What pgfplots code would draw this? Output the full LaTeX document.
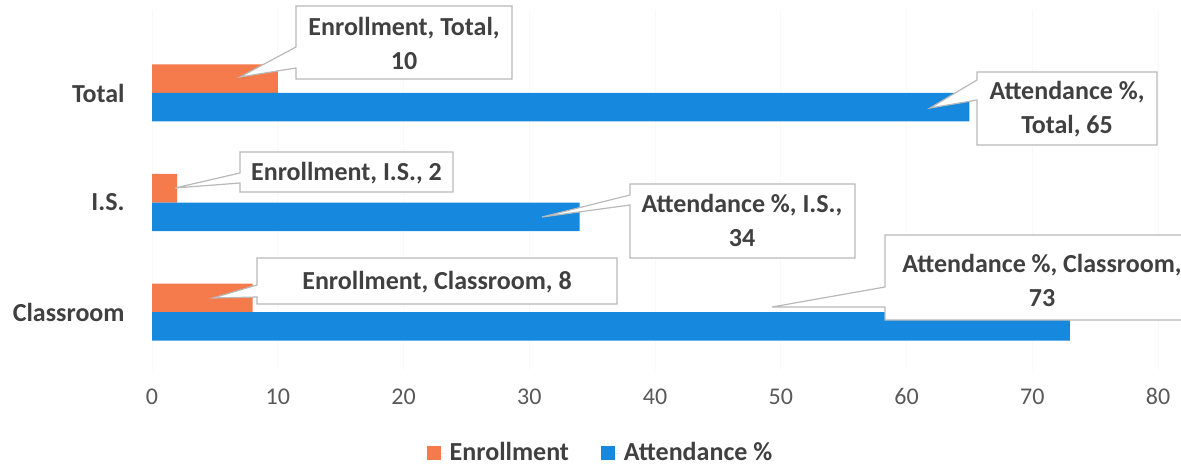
\documentclass[border=0pt]{standalone}
\usepackage{fontspec}
\setmainfont{Carlito}
\usepackage{pgfplots}
\pgfplotsset{compat=1.18}

\definecolor{enr}{RGB}{245,122,76}
\definecolor{att}{RGB}{22,136,222}
\definecolor{txt}{RGB}{64,64,64}
\definecolor{ticktxt}{RGB}{89,89,89}
\definecolor{callout}{RGB}{185,185,185}

\begin{document}
\begin{tikzpicture}
\begin{axis}[
  x=6.2875pt, y=54.75pt,
  xmin=0, xmax=80, ymin=-0.53, ymax=2.76,
  xbar, bar width=14.25pt,
  axis line style={draw=none},
  major tick length=0pt,
  xtick={0,10,...,80},
  ytick={0,1,2},
  yticklabels={Classroom,I.S.,Total},
  xmajorgrids, grid style={gray!5, line width=0.5pt},
  /pgf/number format/assume math mode=true,
  xticklabel style={font=\fontsize{12}{14}\selectfont, text=ticktxt, anchor=base, yshift=-17.25pt},
  yticklabel style={font=\bfseries\fontsize{13}{15}\selectfont, text=txt, anchor=east, inner sep=0pt, xshift=-13.5pt},
  legend columns=2,
  legend style={draw=none, at={(0.4468,-0.2306)}, anchor=center,
    font=\bfseries\fontsize{13}{15}\selectfont, text=txt,
    /tikz/every even column/.append style={column sep=14pt}},
  legend image code/.code={\fill[#1,draw=none] (0pt,-3.5pt) rectangle (7pt,3.5pt);
    \path (0pt,0pt) -- (9.5pt,0pt);},
  clip=false,
]
% values: Classroom, I.S., Total
\addplot[fill=enr, draw=none, bar shift=7.125pt] coordinates {(8,0) (2,1) (10,2)};
\addplot[fill=att, draw=none, bar shift=-7.125pt] coordinates {(73,0) (34,1) (65,2)};
\legend{Enrollment, Attendance \%}
\coordinate (O) at (axis cs:0,0);
\end{axis}
\pgfresetboundingbox
% callouts, in pixel units of the reference
\begin{scope}[shift={(O)}, xshift=-76pt, yshift=156pt, x=0.5pt, y=-0.5pt,
  every node/.style={align=center, text=txt, font=\bfseries\fontsize{13}{17}\selectfont}]
\useasboundingbox (0,0) rectangle (1181,466);
\filldraw[fill=white, draw=callout, line width=0.6pt]
  (296,6) -- (512,6) -- (512,79) -- (296,79) -- (296,68) -- (240,77) -- (296,47) -- cycle;
\node at (404,43) {Enrollment, Total,\\10};
\filldraw[fill=white, draw=callout, line width=0.6pt]
  (977,72) -- (1157,72) -- (1157,145) -- (977,145) -- (977,100) -- (930,108) -- (977,80) -- cycle;
\node at (1067,109) {Attendance \%,\\Total, 65};
\filldraw[fill=white, draw=callout, line width=0.6pt]
  (240,152) -- (453,152) -- (453,192) -- (240,192) -- (240,183) -- (175,188) -- (240,173) -- cycle;
\node at (346.5,173) {Enrollment, I.S., 2};
\filldraw[fill=white, draw=callout, line width=0.6pt]
  (630,184) -- (855,184) -- (855,258) -- (630,258) -- (630,205) -- (542,217) -- (630,195) -- cycle;
\node at (742,220) {Attendance \%, I.S.,\\34};
\filldraw[fill=white, draw=callout, line width=0.6pt]
  (257,258) -- (617,258) -- (617,304) -- (257,304) -- (257,297) -- (213,298) -- (257,285) -- cycle;
\node at (437,282) {Enrollment, Classroom, 8};
\filldraw[fill=white, draw=callout, line width=0.6pt]
  (885,235) -- (1200,235) -- (1200,320) -- (885,320) -- (885,307) -- (772,307) -- (885,287) -- cycle;
\node at (1042,280) {Attendance \%, Classroom,\\73};
\end{scope}
\end{tikzpicture}
\end{document}
